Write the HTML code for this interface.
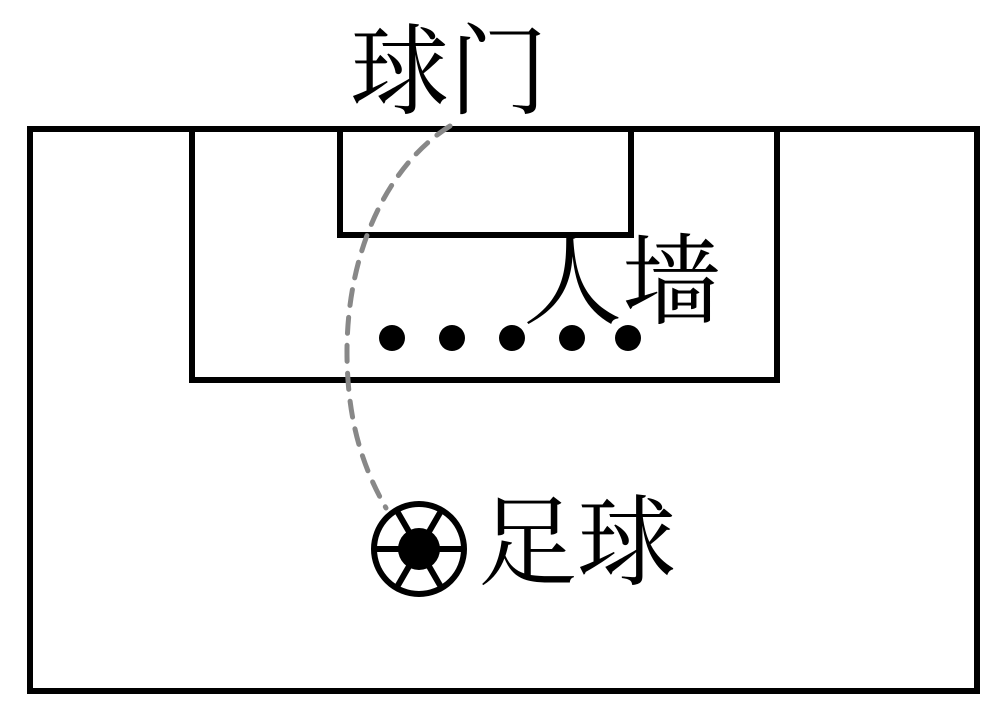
<!DOCTYPE html>
<html><head><style>body{margin:0;background:#fff}svg{display:block}</style></head><body>
<svg width="1002" height="712" viewBox="0 0 1002 712" xmlns="http://www.w3.org/2000/svg">
<g fill="none" stroke="#000" stroke-width="6">
<rect x="30" y="129" width="947" height="562"/>
<rect x="192" y="129" width="585" height="251"/>
<rect x="340" y="129" width="291" height="106"/>
</g>
<path d="M450,126 C380,170 340,270 348,380 C352,440 370,480 386,508" fill="none" stroke="#888" stroke-width="5" stroke-dasharray="16,12" stroke-linecap="round"/>
<g fill="#000">
<circle cx="392" cy="338" r="13"/><circle cx="452" cy="338" r="13"/><circle cx="512" cy="338" r="13"/><circle cx="572" cy="338" r="13"/><circle cx="628" cy="338" r="13"/>
<circle cx="419" cy="549" r="21"/>
</g>
<g stroke="#000" stroke-width="6" fill="none">
<circle cx="419" cy="549" r="45"/>
<line x1="375" y1="549" x2="463" y2="549"/>
<line x1="397" y1="511" x2="441" y2="587"/>
<line x1="441" y1="511" x2="397" y2="587"/>
</g>
<g font-family="'Liberation Serif','Noto Serif CJK SC',serif" font-size="99" fill="#000">
<text x="350" y="106">球门</text>
<text x="523" y="316">人墙</text>
<text x="478" y="577">足球</text>
</g>
</svg>
</body></html>
